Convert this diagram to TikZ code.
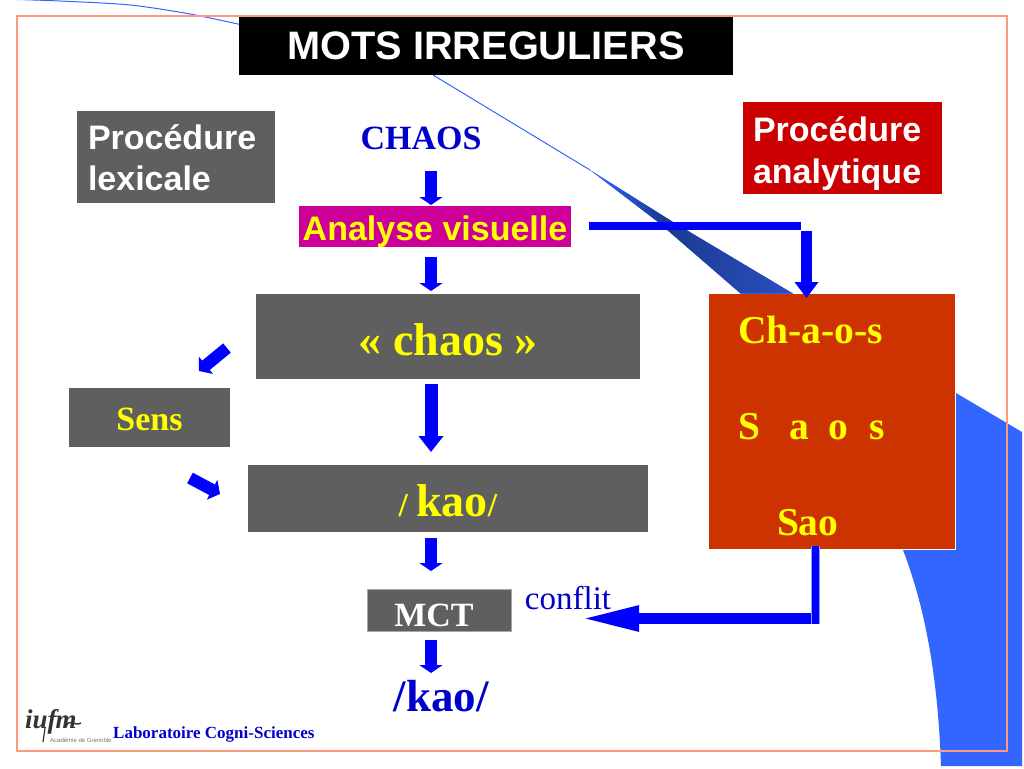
\documentclass[tikz,border=0pt]{standalone}
\usepackage{fontspec}
\setmainfont{Liberation Serif}
\newfontfamily\sansf{Liberation Sans}
\usetikzlibrary{arrows.meta}
\definecolor{framec}{HTML}{FF9980}
\definecolor{crescent}{HTML}{3366FF}
\definecolor{grayb}{HTML}{5F5F5F}
\definecolor{redb}{HTML}{CC0000}
\definecolor{orangeb}{HTML}{CC3300}
\definecolor{magb}{HTML}{CC0099}
\definecolor{txtblue}{HTML}{0000CC}
\definecolor{arrblue}{HTML}{0000FF}
\definecolor{yel}{HTML}{FFFF00}
\definecolor{wedgea}{HTML}{1A3A90}
\definecolor{wedgeb}{HTML}{2A50C0}
\newcommand{\fs}[1]{\fontsize{#1}{#1}\selectfont}
\newcommand{\dn}[2]{\raisebox{0pt}[\dimexpr\height+#1*2\relax][\depth]{#2}}
\tikzset{
  x=1pt,y=-1pt,
  boxn/.style={inner sep=0pt,outer sep=0pt,align=center},
  graybox/.style={boxn,fill=grayb},
  serifyel/.style={text=yel,font=\bfseries},
  ttxt/.style={inner sep=0pt,outer sep=0pt,anchor=base west,text=yel,font=\bfseries\fs{39.5}},
  barrow/.style={draw=arrblue,line width=12pt,-{Triangle[width=23pt,length=8pt]}},
  bigarrow/.style={draw=arrblue,line width=13pt,-{Triangle[width=24pt,length=16pt]}},
  slant/.style={draw=arrblue,line width=12pt,-{Triangle[width=22pt,length=9pt]}},
}
\begin{document}
\begin{tikzpicture}
\useasboundingbox (0,0) rectangle (1024,768);
% crescent
\fill[crescent] (590,170) -- (673,222) -- (792,293) -- (956,393) -- (1022,432)
  -- (1022,766) -- (941,766)
  .. controls (938,680) and (926,610) .. (903,550)
  -- (830,415) -- (740,293) -- (658,222) -- cycle;
\draw[crescent,line width=1pt] plot[smooth,tension=0.5] coordinates {(0,-1) (60,1) (130,5) (190,14) (240,24.5)};
\draw[crescent,line width=1pt] (433,75) -- (590,170);
\begin{scope}
\clip (590,170) -- (673,222) -- (792,293) -- (740,293) -- (658,222) -- cycle;
\shade[left color=crescent,right color=wedgea] (590,170) rectangle (665.2,294);
\shade[left color=wedgea,right color=wedgeb] (665,170) rectangle (795,294);
\end{scope}
% frame
\draw[framec,line width=1.5pt] (17,16) rectangle (1007,751);
% boxes
\node[boxn,fill=black,minimum width=494pt,minimum height=58pt,text=white,font=\sansf\bfseries\fs{39.7}] (title) at (486,46) {MOTS IRREGULIERS};
\node[graybox,minimum width=198pt,minimum height=92pt] (lex) at (176,157) {};
\node[boxn,text=white,font=\sansf\bfseries\fontsize{34}{41}\selectfont,text width=176pt,align=left] (lextxt) at (176,158) {Procédure\\lexicale};
\node[boxn,fill=redb,minimum width=199pt,minimum height=92pt] (ana) at (842.5,148) {};
\node[boxn,text=white,font=\sansf\bfseries\fontsize{34}{42}\selectfont,text width=179pt,align=left] (anatxt) at (842.5,154) {Procédure\\analytique};
\node[boxn,text=txtblue,font=\bfseries\fs{34}] (chaos1) at (421,138) {CHAOS};
\node[boxn,fill=magb,text=yel,font=\sansf\bfseries\fs{34},minimum width=272pt,minimum height=41pt] (vis) at (435,226.5) {\dn{5pt}{Analyse visuelle}};
\node[graybox,serifyel,font=\bfseries\fs{46},minimum width=384pt,minimum height=85pt] (chaos2) at (448,336.5) {\dn{3pt}{« chaos »}};
\node[graybox,serifyel,font=\bfseries\fs{34},minimum width=161pt,minimum height=59pt] (sens) at (149.5,417.5) {\dn{2pt}{Sens}};
\node[graybox,serifyel,minimum width=400pt,minimum height=67pt] (kao) at (448,498.5) {\dn{2pt}{{\fs{33.5}/ }{\fs{46}kao}{\fs{33.5}/}}};
\node[graybox,draw=gray!70,line width=0.5pt,text=white,font=\bfseries\fs{34},minimum width=144pt,minimum height=42pt] (mct) at (439,610) {\dn{5pt}{MCT}\hspace{10pt}};
\node[boxn,text=txtblue,font=\bfseries\fs{45}] (kao2) at (441,696) {/kao/};
\node[boxn,text=txtblue,font=\fs{33}] (conflit) at (568,598) {conflit};
% orange box
\node[boxn,fill=orangeb,minimum width=246pt,minimum height=255pt] (ortho) at (832,421.5) {};
\draw[white,line width=1pt] (ortho.north east) -- (ortho.south east) -- (ortho.south west);
\node[ttxt] (t1) at (738,343) {Ch-a-o-s};
\node[ttxt] (t2) at (738,439) {S\hspace{30pt}a\hspace{19pt}o\hspace{21pt}s};
\node[ttxt] (t3) at (777,535) {Sao};
% connector coordinates
\coordinate (a1s) at (431,171); \coordinate (a1e) at (431,205);
\coordinate (a2s) at (431,257); \coordinate (a2e) at (431,291);
\coordinate (a3s) at (431,384); \coordinate (a3e) at (431,452);
\coordinate (a4s) at (431,538); \coordinate (a4e) at (431,571);
\coordinate (a5s) at (431,640); \coordinate (a5e) at (431,673);
\coordinate (b1) at (589,226); \coordinate (b2) at (801,226);
\coordinate (b3) at (806.5,231); \coordinate (b4) at (806.5,298);
\coordinate (c1) at (815,546); \coordinate (c2) at (815,624);
\coordinate (c3) at (815,618.5); \coordinate (c4) at (579,618.5);
\coordinate (s1) at (227,348); \coordinate (s2) at (199,371);
\coordinate (s3) at (190,478); \coordinate (s4) at (220,494);
% connectors
\draw[barrow] (a1s) -- (a1e);
\draw[barrow] (a2s) -- (a2e);
\draw[bigarrow] (a3s) -- (a3e);
\draw[barrow] (a4s) -- (a4e);
\draw[barrow] (a5s) -- (a5e);
\draw[arrblue,line width=8pt] (b1) -- (b2);
\draw[draw=arrblue,line width=11pt,-{Triangle[width=23pt,length=16pt]}] (b3) -- (b4);
\draw[draw=arrblue,line width=11pt,-{Triangle[width=23pt,length=60pt]}] (c3) -- (c4);
\draw[draw=crescent!60!white,line width=9pt] (c1) -- (c2);
\draw[draw=arrblue,line width=7pt] (c1) -- (c2);
\draw[slant] (s1) -- (s2);
\draw[slant] (s3) -- (s4);
% footer
\node[inner sep=0pt,anchor=base west,font=\bfseries\itshape\fs{27},text=black!80] (logo) at (25,728) {iuf\hspace{-1pt}m};
\coordinate (fl1) at (66,727); \coordinate (fl2) at (81,723);
\coordinate (st1) at (45,728); \coordinate (st2) at (43,742);
\draw[black!80,line width=1.4pt] (fl1) .. controls (69,717) and (74,727) .. (fl2);
\draw[black!80,line width=1.2pt] (st1) -- (st2);
\node[inner sep=0pt,anchor=base west,font=\sansf\fs{6},text=black!55] (acad) at (50,742) {Académie de Grenoble};
\node[inner sep=0pt,anchor=base west,font=\bfseries\fs{17},text=txtblue] (lab) at (113,738) {Laboratoire Cogni-Sciences};
\end{tikzpicture}
\end{document}
